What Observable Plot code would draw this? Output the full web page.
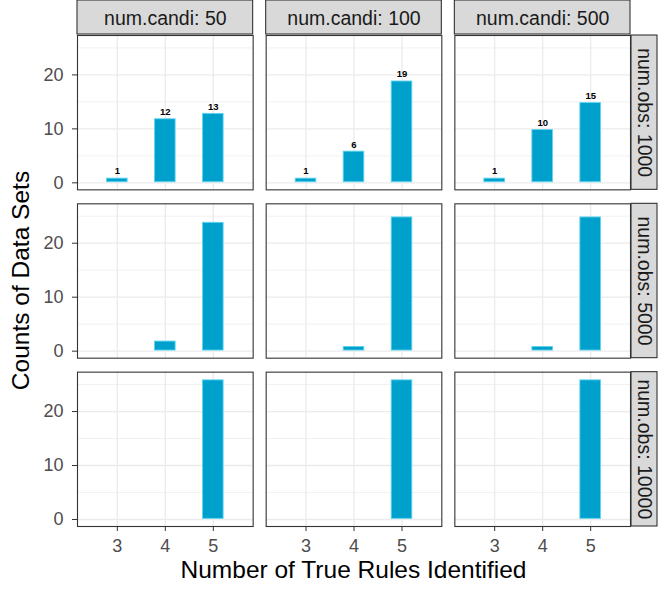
<!DOCTYPE html>
<html>
<head>
<meta charset="utf-8">
<script src="https://cdn.jsdelivr.net/npm/d3@7"></script>
<script src="https://cdn.jsdelivr.net/npm/@observablehq/plot@0.6"></script>
<style>
  body { margin: 0; background: #fff; }
  #chart svg { display: block; }
</style>
</head>
<body>
<div id="chart"></div>
<script>
// ---- data ----
const rules = [3, 4, 5];                 // Number of True Rules Identified
const numCandi = [50, 100, 500];         // column facets
const numObs = [1000, 5000, 10000];      // row facets
// counts for rules 3,4,5 within each num.candi (50,100,500)
const countsObs1000  = [[1, 12, 13], [1, 6, 19], [1, 10, 15]];
const countsObs5000  = [[0, 2, 24],  [0, 1, 25], [0, 1, 25]];
const countsObs10000 = [[0, 0, 26],  [0, 0, 26], [0, 0, 26]];
const yTicks = [0, 10, 20];
const yMinor = [5, 15, 25];
const labelledObs = [1000];

// ---- tables ----
const countsByObs = [countsObs1000, countsObs5000, countsObs10000];
const rows = [];
numObs.forEach((obs, oi) => {
  numCandi.forEach((candi, ci) => {
    rules.forEach((rule, ri) => {
      const count = countsByObs[oi][ci][ri];
      if (count > 0) rows.push({obs, candi, rule, count});
    });
  });
});
const labelRows = rows.filter(d => labelledObs.includes(d.obs));
const stripTop = numCandi.map(candi => ({candi, obs: numObs[0]}));
const stripRight = numObs.map(obs => ({candi: numCandi[numCandi.length - 1], obs}));

const xDomain = [2.17, 5.83];
const yDomain = [-1.3, 27.3];
const barHalf = 0.225;

const W = 660, H = 589;
const mL = 77, mR = 30, mT = 35, mB = 63;
const font = "'Liberation Sans', Arial, Helvetica, sans-serif";

const plot = Plot.plot({
  width: W,
  height: H,
  marginLeft: mL,
  marginRight: mR,
  marginTop: mT,
  marginBottom: mB,
  style: {fontFamily: font, background: "#fff", overflow: "visible"},
  x: {domain: xDomain, axis: null},
  y: {domain: yDomain, axis: null},
  fx: {domain: numCandi, paddingInner: 0.069, paddingOuter: 0, round: false, axis: null, label: null},
  fy: {domain: numObs, paddingInner: 0.083, paddingOuter: 0, round: false, axis: null, label: null},
  marks: [
    Plot.gridY(yMinor, {stroke: "#EBEBEB", strokeOpacity: 1, strokeWidth: 0.7}),
    Plot.gridY(yTicks, {stroke: "#EBEBEB", strokeOpacity: 1, strokeWidth: 1.3}),
    Plot.gridX(rules, {stroke: "#EBEBEB", strokeOpacity: 1, strokeWidth: 1.3}),
    Plot.rect(rows, {
      x1: d => d.rule - barHalf, x2: d => d.rule + barHalf,
      y1: 0, y2: "count",
      fx: "candi", fy: "obs",
      fill: "#00A0CC", stroke: "#5ED4F0", strokeWidth: 0.9,
      insetTop: 1.2, insetBottom: 0.6, insetLeft: 0.5, insetRight: 0.5
    }),
    Plot.text(labelRows, {
      x: "rule", y: "count", text: d => String(d.count),
      fx: "candi", fy: "obs",
      dy: -6, fontSize: 9.5, fontWeight: "bold", fill: "#000"
    }),
    // strips
    Plot.rect(stripTop, {
      x1: xDomain[0], x2: xDomain[1], y1: yDomain[1], y2: yDomain[1],
      fx: "candi", fy: "obs",
      insetTop: -35, insetBottom: 1,
      fill: "#D9D9D9", stroke: "#333333", strokeWidth: 1.1
    }),
    Plot.text(stripTop, {
      frameAnchor: "top", dy: -17,
      fx: "candi", fy: "obs",
      text: d => `num.candi: ${d.candi}`,
      textAnchor: "middle", lineAnchor: "middle",
      fontSize: 19.5, fill: "#1A1A1A"
    }),
    Plot.rect(stripRight, {
      x1: xDomain[1], x2: xDomain[1], y1: yDomain[0], y2: yDomain[1],
      fx: "candi", fy: "obs",
      insetLeft: 1, insetRight: -27,
      fill: "#D9D9D9", stroke: "#333333", strokeWidth: 1.1
    }),
    Plot.text(stripRight, {
      frameAnchor: "right", dx: 14,
      fx: "candi", fy: "obs",
      text: d => `num.obs: ${d.obs}`,
      rotate: 90,
      textAnchor: "middle", lineAnchor: "middle",
      fontSize: 19.5, fill: "#1A1A1A"
    }),
    Plot.frame({stroke: "#333333", strokeWidth: 1.1}),
    Plot.axisX(rules, {
      tickSize: 5, tickPadding: 8, fontSize: 18,
      stroke: "#333333", fill: "#4D4D4D", label: null
    }),
    Plot.axisY(yTicks, {
      tickSize: 5, tickPadding: 9, fontSize: 18,
      stroke: "#333333", fill: "#4D4D4D", label: null
    })
  ]
});

const svg = d3.select(plot);
svg.append("text")
  .attr("x", mL + (W - mL - mR) / 2)
  .attr("y", 578)
  .attr("text-anchor", "middle")
  .attr("font-family", font)
  .attr("font-size", 24.5)
  .attr("fill", "#000")
  .text("Number of True Rules Identified");
svg.append("text")
  .attr("transform", `translate(29,${mT + (H - mT - mB) / 2}) rotate(-90)`)
  .attr("text-anchor", "middle")
  .attr("font-family", font)
  .attr("font-size", 24.5)
  .attr("fill", "#000")
  .text("Counts of Data Sets");

document.getElementById("chart").appendChild(plot);
</script>
</body>
</html>
